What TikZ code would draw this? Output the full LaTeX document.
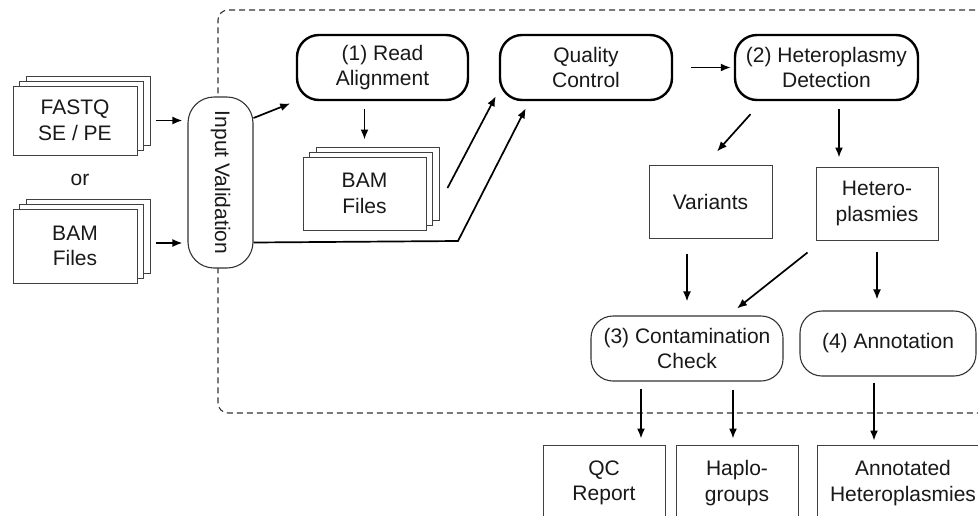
\documentclass[tikz,border=0pt]{standalone}
\usepackage{fontspec}
\setmainfont{Liberation Sans}
\usetikzlibrary{arrows.meta,shadows}

\begin{document}
\begin{tikzpicture}[x=1pt,y=-1pt,
    every node/.style={font=\fontsize{21pt}{25.5pt}\selectfont, align=center, text=black!90},
    filebox/.style={draw=black!75, fill=white, line width=1pt, inner sep=4pt},
    filestack/.style={filebox, double copy shadow={shadow xshift=6.5pt, shadow yshift=5pt}},
    stepbox/.style={draw=black, fill=white, line width=2.4pt, rounded corners=22pt, minimum width=171pt, minimum height=65pt},
    taskbox/.style={draw=black!80, fill=white, line width=1.1pt, rounded corners=22pt, minimum height=65pt},
    flow/.style={-{Latex[length=10pt,width=8pt]}, line width=1.7pt},
    frame/.style={draw=black!80, line width=1.1pt, dash pattern=on 6pt off 4pt, rounded corners=10pt}]
  \useasboundingbox (0,0) rectangle (978,515);
  \clip (0,0) rectangle (978,515);
  \fill[white] (0,0) rectangle (978,515);

  % pipeline frame
  \draw[frame] (995,10) -- (218,10) -- (218,413) -- (995,413);

  % inputs
  \node[filestack, minimum width=124pt, minimum height=69pt] (fastq) at (75,120.5) {FASTQ\\SE / PE};
  \node (or) at (80,180) {or};
  \node[filestack, minimum width=124pt, minimum height=74pt] (bamin) at (75,246) {BAM\\Files};
  \node[draw=black!80, fill=white, line width=1.1pt, rounded corners=26pt, minimum width=65pt, minimum height=171pt, inner sep=0pt] (iv) at (220.5,182.5) {\rotatebox{-90}{Input Validation}};

  % main steps
  \node[stepbox] (align) at (382.5,67.5) {(1) Read\\Alignment};
  \node[stepbox, minimum width=172pt] (qc) at (586,67.5) {Quality\\Control};
  \node[stepbox, minimum width=183pt] (detect) at (826.5,67.5) {(2) Heteroplasmy\\Detection};
  \node[filestack, minimum width=123pt, minimum height=73pt] (bamout) at (364.5,193.5) {BAM\\Files};
  \node[filebox, minimum width=123pt, minimum height=73pt] (variants) at (710.5,201.5) {Variants};
  \node[filebox, minimum width=122pt, minimum height=73pt] (heteros) at (877,203.5) {Hetero-\\plasmies};
  \node[taskbox, minimum width=192pt] (contam) at (687,348.5) {(3) Contamination\\Check};
  \node[taskbox, minimum width=176pt] (annot) at (888,343.5) {(4) Annotation};

  % outputs
  \node[filebox, minimum width=122pt, minimum height=76pt] (qcrep) at (604,483) {QC\\Report};
  \node[filebox, minimum width=122pt, minimum height=76pt] (haplo) at (737,483) {Haplo-\\groups};
  \node[filebox, minimum width=172pt, minimum height=76pt] (annhet) at (903,483) {Annotated\\Heteroplasmies};

  % connectors
  \draw[flow, shorten <=18pt, shorten >=5pt] (fastq.east) -- (iv.west |- fastq.east);
  \draw[flow, shorten <=18pt, shorten >=5pt] ([yshift=3pt]bamin.east) -- ([yshift=3pt]iv.west |- bamin.east);
  \draw[flow, shorten >=6pt] ([yshift=64.5pt]iv.east) -- (align.south west);
  \draw[flow, shorten <=8pt, shorten >=17pt] (align.south -| bamout.north) -- (bamout.north);
  \draw[flow] ([xshift=21pt,yshift=5.5pt]bamout.east) -- ([xshift=-3pt,yshift=5pt]qc.south west);
  \coordinate (bend) at (458,241);
  \draw[flow] ([yshift=-60pt]iv.east) -- (bend) -- ([xshift=27pt,yshift=-7pt]qc.south west);
  \draw[flow, shorten <=18pt, shorten >=3pt] (qc.east) -- (detect.west);
  \draw[flow] ([xshift=-76pt,yshift=-13pt]detect.south) -- ([xshift=6.5pt,yshift=13pt]variants.north);
  \draw[flow, shorten <=8pt, shorten >=9pt] ([xshift=12.5pt]detect.south) -- ([xshift=-38pt]heteros.north);
  \draw[flow, shorten <=15pt, shorten >=14pt] (contam.north |- variants.south) -- (contam.north);
  \draw[flow] ([xshift=-8pt,yshift=-12pt]heteros.south west) -- ([xshift=50pt,yshift=7pt]contam.north);
  \draw[flow, shorten <=11pt, shorten >=11pt] (heteros.south) -- (heteros.south |- annot.north);
  \draw[flow, shorten <=7pt] ([xshift=-46pt]contam.south) -- ++(0,57);
  \draw[flow, shorten <=8pt] ([xshift=46pt]contam.south) -- ++(0,57);
  \draw[flow, shorten <=6pt] ([xshift=-14pt]annot.south) -- ++(0,64);
\end{tikzpicture}
\end{document}
